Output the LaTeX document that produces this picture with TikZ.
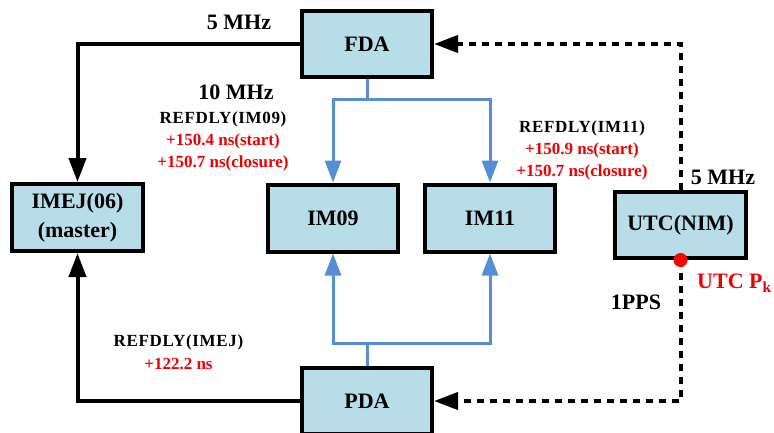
\documentclass[tikz,border=0pt]{standalone}
\usepackage{fontspec}
\setmainfont{Liberation Serif}
\usetikzlibrary{arrows.meta}
\definecolor{boxfill}{RGB}{183,221,232}
\definecolor{linkblue}{RGB}{85,142,213}
\definecolor{valred}{RGB}{238,0,0}
\newfontfamily\notefont[LetterSpace=4]{Liberation Serif}
\tikzset{
  unit box/.style={draw=black, line width=4pt, fill=boxfill, minimum width=130pt, minimum height=66pt,
    inner sep=0pt, align=center, font=\bfseries\fontsize{22}{29}\selectfont},
  blk/.style={draw=black, line width=4pt, -{Triangle[length=24pt,width=17pt]}},
  blueline/.style={draw=linkblue, line width=3pt},
  bluearrow/.style={blueline, -{Triangle[length=22pt,width=16pt]}},
  dashline/.style={draw=black, line width=4pt, dash pattern=on 7pt off 6pt, -{Triangle[length=24pt,width=17pt]}},
  biglabel/.style={font=\bfseries\fontsize{22}{24}\selectfont, inner sep=0pt},
  note/.style={font=\bfseries\fontsize{17}{22}\selectfont, inner sep=0pt, align=center},
}
\begin{document}
\begin{tikzpicture}[x=1pt,y=-1pt]
\useasboundingbox (0,0) rectangle (774,432);
% boxes
\node[unit box] (fda)  at (367,44)  {FDA};
\node[unit box, minimum width=131pt, minimum height=67pt] (imej) at (77.5,217.5) {IMEJ(06)\\(master)};
\node[unit box, minimum height=67pt] (im09) at (333,218) {IM09};
\node[unit box, minimum height=67pt] (im11) at (490,218) {IM11};
\node[unit box, minimum width=131pt] (utc)  at (680.5,225) {UTC(NIM)};
\node[unit box] (pda)  at (367,401) {PDA};
% junctions
\coordinate (tj) at (367,99);
\coordinate (bj) at (367,343);
% black links
\draw[blk] (fda.west) -| (imej.north);
\draw[blk] (pda.west) -| (imej.south);
% blue links
\draw[blueline] (fda.south) -- (tj);
\draw[bluearrow] (tj) -| (im09.north);
\draw[bluearrow] (tj) -| (im11.north);
\draw[blueline] (pda.north) -- (bj);
\draw[bluearrow] (bj) -| (im09.south);
\draw[bluearrow] (bj) -| (im11.south);
% dashed links
\draw[dashline] (utc.north) |- (fda.east);
\draw[dashline] (utc.south) |- (pda.east);
\fill[red] (utc.south) circle[radius=7pt];
% labels
\node[biglabel] (l5a) at (239,22) {5 MHz};
\node[biglabel] (l10) at (236,92) {10 MHz};
\node[note] (r09) at (223,141) {{\notefont REFDLY(IM09)}\\\textcolor{valred}{+150.4 ns(start)}\\\textcolor{valred}{+150.7 ns(closure)}};
\node[note] (r11) at (582,150) {{\notefont REFDLY(IM11)}\\\textcolor{valred}{+150.9 ns(start)}\\\textcolor{valred}{+150.7 ns(closure)}};
\node[note, font=\bfseries\fontsize{17}{23}\selectfont] (rej) at (178.5,352.5) {{\notefont REFDLY(IMEJ)}\\\textcolor{valred}{+122.2 ns}};
\node[biglabel] (l5b) at (723,177) {5 MHz};
\node[biglabel, anchor=west, text=valred] (pk) at (697,283) {UTC P\textsubscript{k}};
\node[biglabel] (pps) at (636,302) {1PPS};
\end{tikzpicture}
\end{document}
